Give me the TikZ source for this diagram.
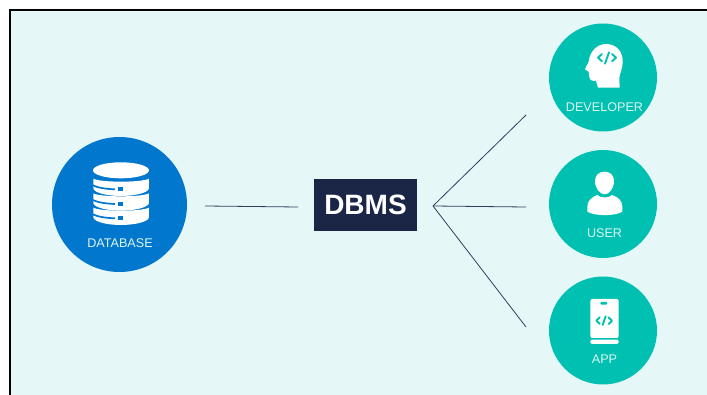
\documentclass[tikz,border=0pt]{standalone}
\usepackage{fontspec}
\setmainfont{Liberation Sans}
\definecolor{bgc}{HTML}{E6F7F8}
\definecolor{bluec}{HTML}{0277CE}
\definecolor{tealc}{HTML}{00C1B1}
\definecolor{navy}{HTML}{1B2545}
\definecolor{linec}{HTML}{2E3F5C}
\definecolor{labelc}{HTML}{DDF6F4}
\tikzset{
  hub/.style={circle,draw=none,minimum size=108pt,inner sep=0pt,fill=tealc},
  dbhub/.style={circle,draw=none,minimum size=135pt,inner sep=0pt,fill=bluec},
  lbl/.style={text=labelc,inner sep=0pt,font=\fontsize{12.6}{14}\selectfont},
  conn/.style={draw=linec,line width=0.8pt},
  icon/.style={fill=white,draw=none},
  codemark/.style={draw=tealc,line width=1.9pt,line cap=round,line join=round},
  zoomed/.style={x=0.3333pt,y=-0.3333pt}
}
\begin{document}
\begin{tikzpicture}[x=1pt,y=-1pt]
\useasboundingbox (0,0) rectangle (707,395);
\fill[white] (0,0) rectangle (707,395);
\fill[bgc] (10,10) rectangle (707,395);
\draw[black,line width=2pt] (10,395) -- (10,10) -- (707,10);

\node[dbhub] (db) at (119.5,204.5) {};
\node[hub] (dev) at (603,77.5) {};
\node[hub] (usr) at (603,204) {};
\node[hub] (app) at (603,330.5) {};
\node[fill=navy,minimum width=103pt,minimum height=52pt,inner sep=0pt,text=white,font=\bfseries\fontsize{28}{30}\selectfont] (dbms) at (365.5,205) {DBMS};

\node[lbl] (ldb) at (120,243) {DATABASE};
\node[lbl] (ldev) at (604.5,107) {DEVELOPER};
\node[lbl] (lusr) at (604.5,233) {USER};
\node[lbl] (lapp) at (604.5,359) {APP};

\coordinate (a1) at (205,206);
\coordinate (a2) at (298,207);
\coordinate (hubpt) at (433,206);
\coordinate (e1) at (526,115);
\coordinate (e2) at (526,207);
\coordinate (e3) at (526,327);
\draw[conn] (a1) -- (a2);
\draw[conn] (hubpt) -- (e1);
\draw[conn] (hubpt) -- (e2);
\draw[conn] (hubpt) -- (e3);

% database icon (coordinates in 3x crop pixels)
\begin{scope}[shift={(40,130)},zoomed]
  \fill[icon] (243,121) ellipse [x radius=84,y radius=24];
  \foreach \t in {0,44,87}{
    \begin{scope}[yshift=-\t*0.3333pt]
    \fill[icon] (160,146) .. controls (180,158) and (306,158) .. (327,146)
      -- (327,176) .. controls (322,190) and (280,198) .. (243,198)
      .. controls (205,198) and (165,190) .. (160,176) -- cycle;
    \draw[bluec,line width=1.7pt] (158,166) .. controls (175,174) and (200,177) .. (225,178);
    \fill[bluec] (235,171) rectangle (248,184);
    \end{scope}
  }
\end{scope}

% developer icon
\begin{scope}[shift={(540,15)},zoomed]
  \fill[icon] (174,218) -- (168,197) .. controls (158,199) and (150,197) .. (148,186)
    -- (146,170) -- (135,163) -- (146,140)
    .. controls (150,105) and (175,87) .. (198,87)
    .. controls (230,87) and (250,112) .. (248,142)
    .. controls (247,165) and (238,178) .. (238,190) -- (239,218) -- cycle;
  \draw[codemark]
    (186,117) -- (174,128) -- (186,139)
    (216,117) -- (228,128) -- (216,139)
    (207,112) -- (195,146);
\end{scope}

% user icon
\begin{scope}[shift={(540,145)},zoomed]
  \fill[icon] (194,80) .. controls (212,80) and (222,92) .. (222,108)
    .. controls (222,130) and (208,148) .. (194,148)
    .. controls (180,148) and (165,130) .. (165,108)
    .. controls (165,92) and (176,80) .. (194,80) -- cycle;
  \fill[icon] (172,150) .. controls (180,160) and (208,160) .. (216,150)
    .. controls (235,156) and (247,168) .. (247,185) -- (247,200)
    .. controls (225,214) and (165,214) .. (142,200) -- (142,185)
    .. controls (142,168) and (155,156) .. (172,150) -- cycle;
\end{scope}

% app icon
\begin{scope}[shift={(540,270)},zoomed]
  \fill[icon,rounded corners=2pt] (151,204) -- (151,87) -- (236,87) -- (236,204) -- cycle;
  \fill[icon,rounded corners=1.5pt] (151,209) -- (236,209) -- (236,222) -- (151,222) -- cycle;
  \fill[tealc,rounded corners=1pt] (181,96) rectangle (202,104);
  \draw[codemark]
    (179,142) -- (169,152) -- (179,162)
    (206,142) -- (216,152) -- (206,162)
    (197,139) -- (188,165);
\end{scope}
\end{tikzpicture}
\end{document}
